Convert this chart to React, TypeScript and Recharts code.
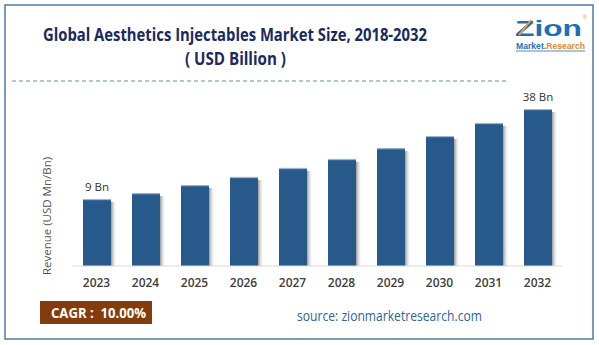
import React from "react";
import { BarChart, Bar, XAxis, YAxis, LabelList } from "recharts";

const years = ["2023", "2024", "2025", "2026", "2027", "2028", "2029", "2030", "2031", "2032"];
const revenue = [9, 10.9, 13.5, 16.1, 19.0, 21.9, 25.4, 29.3, 33.5, 38];
const valueLabels = ["9 Bn", "", "", "", "", "", "", "", "", "38 Bn"];

const AXIS_MIN = -12.6;
const AXIS_MAX = 40.9;

const data = years.map((y, i) => ({ year: y, value: revenue[i], label: valueLabels[i] }));

const BAR_COLOR = "#275A8A";

const BarShape = (props: any) => {
  const { x, y, width, height, index } = props;
  if (width == null || height == null) return null;
  const gid = `shadow-grad-${index}`;
  return (
    <g>
      <defs>
        <linearGradient id={gid} x1="0" y1="0" x2="1" y2="0">
          <stop offset="0%" stopColor="#8c8c8c" stopOpacity={0.9} />
          <stop offset="100%" stopColor="#ffffff" stopOpacity={0} />
        </linearGradient>
      </defs>
      <rect x={x + width} y={y + 3} width={6} height={height - 3} fill={`url(#${gid})`} />
      <rect x={x} y={y} width={width} height={height} fill={BAR_COLOR} />
      <rect x={x} y={y} width={width} height={1.2} fill="#9DB4CC" />
    </g>
  );
};

const renderLabel = (props: any) => {
  const { x, y, width, index } = props;
  const text = valueLabels[index];
  if (!text) return null;
  return (
    <text
      x={x + width / 2}
      y={y - 8}
      textAnchor="middle"
      fontFamily="'Open Sans', sans-serif"
      fontSize={11.5}
      fill="#333"
    >
      {text}
    </text>
  );
};

export default function App() {
  return (
    <div style={{ position: "absolute", left: 0, top: 0, width: 599, height: 345, background: "#fff" }}>
      <BarChart
        width={599}
        height={345}
        data={data}
        margin={{ top: 100, right: 37, bottom: 49, left: 72 }}
        barSize={28}
      >
        <YAxis hide width={0} type="number" domain={[AXIS_MIN, AXIS_MAX]} allowDataOverflow />
        <XAxis
          dataKey="year"
          height={30}
          tickLine={false}
          tickSize={0}
          tickMargin={12}
          axisLine={{ stroke: "#D9D9D9", strokeWidth: 1 }}
          tick={{ fontFamily: "'Open Sans', sans-serif", fontSize: 12, fontWeight: 600, fill: "#404040" }}
          interval={0}
        />
        <Bar
          dataKey={(d: any) => [AXIS_MIN, d.value]}
          isAnimationActive={false}
          shape={<BarShape />}
        >
          <LabelList dataKey="label" content={renderLabel} />
        </Bar>
      </BarChart>
      <svg
        width={599}
        height={345}
        style={{ position: "absolute", left: 0, top: 0, pointerEvents: "none" }}
      >
        <rect x={5} y={5} width={588} height={334} fill="none" stroke="#4F7BA6" strokeWidth={1.5} />
        <text
          x={43}
          y={41}
          textLength={384}
          lengthAdjust="spacingAndGlyphs"
          fontFamily="'Open Sans', sans-serif"
          fontWeight={700}
          fontSize={17}
          fill="#1B2A5E"
        >
          Global Aesthetics Injectables Market Size, 2018-2032
        </text>
        <text
          x={185}
          y={65}
          textLength={101}
          lengthAdjust="spacingAndGlyphs"
          fontFamily="'Open Sans', sans-serif"
          fontWeight={700}
          fontSize={17}
          fill="#1B2A5E"
        >
          ( USD Billion )
        </text>
        <line x1={12} y1={81} x2={508} y2={81} stroke="#5B8DB8" strokeWidth={1} strokeDasharray="4 3" />
        {/* logo */}
        <text
          x={515}
          y={36}
          textLength={67}
          lengthAdjust="spacingAndGlyphs"
          fontFamily="'Liberation Sans', Arial, sans-serif"
          fontWeight={700}
          fontSize={22}
          fill="#1F6FB5"
        >
          Zion
        </text>
        <line x1={519} y1={35} x2={531} y2={20} stroke="#F0A030" strokeWidth={2} />
        <text x={583} y={19} fontFamily="'Liberation Sans', sans-serif" fontSize={5} fill="#E8892B">®</text>
        <text
          x={516}
          y={49}
          textLength={69}
          lengthAdjust="spacingAndGlyphs"
          fontFamily="'Liberation Sans', Arial, sans-serif"
          fontWeight={700}
          fontSize={9}
        >
          <tspan fill="#1F6FB5">Market.</tspan>
          <tspan fill="#E8892B">Research</tspan>
        </text>
        <line x1={516} y1={51} x2={585} y2={51} stroke="#1F6FB5" strokeWidth={0.8} />
        {/* y axis title */}
        <text
          transform="translate(51 216) rotate(-90)"
          textAnchor="middle"
          fontFamily="'Open Sans', sans-serif"
          fontSize={11.5}
          fill="#555"
        >
          Revenue (USD Mn/Bn)
        </text>
        {/* CAGR box */}
        <rect x={40} y={301} width={112} height={23} fill="#843C0C" />
        <text
          x={51}
          y={318}
          textLength={95}
          lengthAdjust="spacingAndGlyphs"
          fontFamily="'Open Sans', sans-serif"
          fontWeight={700}
          fontSize={15}
          fill="#fff"
        >
          {"CAGR :\u00a0\u00a010.00%"}
        </text>
        <text
          x={297}
          y={321}
          textLength={185}
          lengthAdjust="spacingAndGlyphs"
          fontFamily="'Open Sans', sans-serif"
          fontSize={14}
          fill="#2F6497"
        >
          source: zionmarketresearch.com
        </text>
      </svg>
    </div>
  );
}
